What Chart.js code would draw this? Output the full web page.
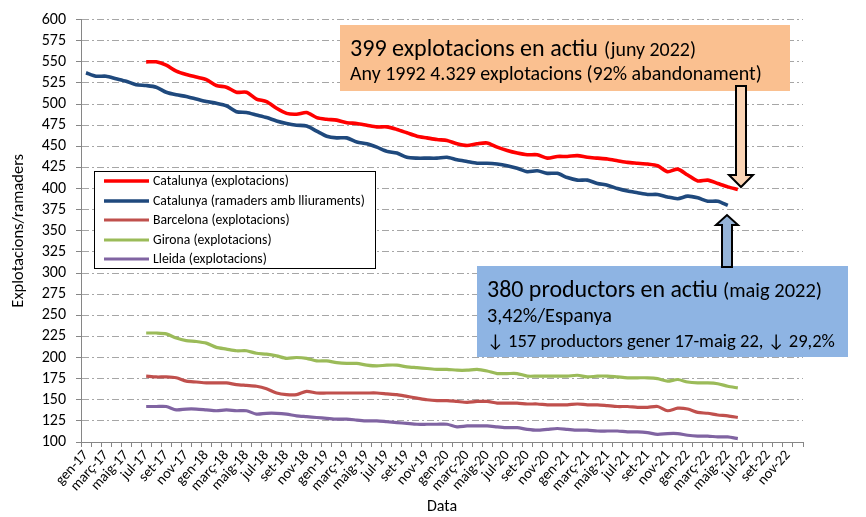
<!DOCTYPE html>
<html>
<head>
<meta charset="utf-8">
<script src="https://cdn.jsdelivr.net/npm/chart.js@4/dist/chart.umd.min.js"></script>
<style>
  html, body { margin: 0; padding: 0; background: #fff; }
  #wrap { width: 866px; height: 517px; }
</style>
</head>
<body>
<div id="wrap"><canvas id="chart" width="866" height="517"></canvas></div>
<script>
// Months in catalan, one category per month gen-17 .. des-22
const monthNames = ['gen', 'febr', 'març', 'abr', 'maig', 'juny', 'jul', 'ag', 'set', 'oct', 'nov', 'des'];
const years = ['17', '18', '19', '20', '21', '22'];
const categories = [];
years.forEach(y => monthNames.forEach(m => categories.push(m + '-' + y)));

// Series (start index into categories, then monthly values)
const catExplStart = 6; // jul-17
const catalunyaExplotacions = [
  550, 550, 546, 539, 535, 532, 529, 522, 520, 514,
  514, 506, 503, 495, 489, 488, 490, 484, 482, 481,
  478, 477, 475, 473, 473, 470, 466, 462, 460, 458,
  457, 453, 451, 453, 454, 449, 445, 442, 440, 440,
  436, 438, 438, 439, 437, 436, 435, 433, 431, 430,
  429, 427, 420, 423, 416, 409, 410, 406, 402, 399
];
const catRamStart = 0; // gen-17
const catalunyaRamaders = [
  537, 533, 533, 530, 527, 523, 522, 520, 514, 511,
  509, 506, 503, 501, 498, 491, 490, 487, 484, 480,
  477, 475, 474, 468, 462, 460, 460, 455, 453, 449,
  444, 442, 437, 436, 436, 436, 437, 434, 432, 430,
  430, 429, 427, 424, 420, 421, 418, 418, 413, 410,
  410, 406, 404, 400, 397, 395, 393, 393, 390, 388,
  391, 389, 385, 385, 380
];
const provStart = 6; // jul-17
const barcelona = [
  178, 177, 177, 176, 172, 171, 170, 170, 170, 168,
  167, 166, 163, 158, 156, 156, 160, 158, 158, 158,
  158, 158, 158, 158, 157, 156, 154, 152, 150, 149,
  149, 148, 147, 148, 148, 146, 146, 146, 145, 145,
  144, 144, 144, 145, 144, 144, 143, 142, 142, 141,
  141, 142, 137, 140, 139, 135, 134, 132, 131, 129
];
const girona = [
  229, 229, 228, 223, 220, 219, 217, 212, 210, 208,
  208, 205, 204, 202, 199, 200, 199, 196, 196, 194,
  193, 193, 191, 190, 191, 191, 189, 188, 187, 186,
  186, 185, 185, 186, 184, 181, 181, 181, 178, 178,
  178, 178, 178, 179, 177, 178, 178, 177, 176, 176,
  176, 175, 172, 174, 171, 170, 170, 169, 166, 164
];
const lleida = [
  142, 142, 142, 138, 139, 139, 138, 137, 138, 137,
  137, 133, 134, 134, 133, 131, 130, 129, 128, 127,
  127, 126, 125, 125, 124, 123, 122, 121, 121, 121,
  121, 118, 119, 119, 119, 118, 117, 117, 115, 114,
  115, 116, 115, 114, 114, 113, 113, 113, 112, 112,
  111, 109, 110, 110, 108, 107, 107, 106, 106, 104
];

const yMin = 100, yMax = 600, yStep = 25;

const FONT = 'Carlito, Calibri, Lato, sans-serif';

function pad(start, values) {
  const out = new Array(categories.length).fill(null);
  values.forEach((v, i) => { out[start + i] = v; });
  return out;
}

const datasets = [
  { label: 'Catalunya (explotacions)', data: pad(catExplStart, catalunyaExplotacions), borderColor: '#ff0000', borderWidth: 3.6 },
  { label: 'Catalunya (ramaders amb lliuraments)', data: pad(catRamStart, catalunyaRamaders), borderColor: '#1f497d', borderWidth: 3.6 },
  { label: 'Barcelona (explotacions)', data: pad(provStart, barcelona), borderColor: '#c0504d', borderWidth: 3.2 },
  { label: 'Girona (explotacions)', data: pad(provStart, girona), borderColor: '#9bbb59', borderWidth: 3.2 },
  { label: 'Lleida (explotacions)', data: pad(provStart, lleida), borderColor: '#8064a2', borderWidth: 3.2 }
];
datasets.forEach(d => { d.pointRadius = 0; d.tension = 0.25; d.fill = false; });

// fit a text to a given width by adjusting font size
function fitFont(ctx, text, width, weight) {
  ctx.font = (weight || '') + ' 20px ' + FONT;
  const w = ctx.measureText(text).width;
  return 20 * width / w;
}

function drawArrow(ctx, x, yStart, yTip, shaftW, headW, headH, fill) {
  const dir = yTip > yStart ? 1 : -1;
  const yBase = yTip - dir * headH;
  ctx.beginPath();
  ctx.moveTo(x - shaftW / 2, yStart);
  ctx.lineTo(x - shaftW / 2, yBase);
  ctx.lineTo(x - headW / 2, yBase);
  ctx.lineTo(x, yTip);
  ctx.lineTo(x + headW / 2, yBase);
  ctx.lineTo(x + shaftW / 2, yBase);
  ctx.lineTo(x + shaftW / 2, yStart);
  ctx.closePath();
  ctx.fillStyle = fill;
  ctx.fill();
  ctx.lineWidth = 2;
  ctx.strokeStyle = '#000';
  ctx.stroke();
}

const overlay = {
  id: 'overlay',
  afterDraw(chart) {
    const ctx = chart.ctx;
    ctx.save();

    // legend box
    ctx.fillStyle = '#fff';
    ctx.fillRect(94, 171, 281, 97);
    ctx.lineWidth = 1;
    ctx.strokeStyle = '#000';
    ctx.strokeRect(94.5, 171.5, 281, 97);
    const rows = [181, 201, 220, 240, 259];
    const legSize = fitFont(ctx, 'Catalunya (ramaders amb lliuraments)', 212);
    chart.data.datasets.forEach((ds, i) => {
      ctx.beginPath();
      ctx.moveTo(104, rows[i]);
      ctx.lineTo(149, rows[i]);
      ctx.lineWidth = ds.borderWidth;
      ctx.strokeStyle = ds.borderColor;
      ctx.stroke();
      ctx.fillStyle = '#000';
      ctx.font = legSize + 'px ' + FONT;
      ctx.textBaseline = 'middle';
      ctx.fillText(ds.label, 153, rows[i] + 1);
    });

    // orange box
    ctx.fillStyle = '#fac090';
    ctx.fillRect(340, 25, 450, 66);
    ctx.textBaseline = 'alphabetic';
    ctx.fillStyle = '#000';
    let s = fitFont(ctx, '399 explotacions en actiu', 248);
    ctx.font = s + 'px ' + FONT;
    ctx.fillText('399 explotacions en actiu', 350, 56);
    s = fitFont(ctx, '(juny 2022)', 92);
    ctx.font = s + 'px ' + FONT;
    ctx.fillText('(juny 2022)', 604, 56);
    s = fitFont(ctx, 'Any 1992 4.329 explotacions (92% abandonament)', 412);
    ctx.font = s + 'px ' + FONT;
    ctx.fillText('Any 1992 4.329 explotacions (92% abandonament)', 350, 80);

    // blue box
    ctx.fillStyle = '#8eb4e3';
    ctx.fillRect(477, 266, 371, 91);
    ctx.fillStyle = '#000';
    s = fitFont(ctx, '380 productors en actiu', 231);
    ctx.font = s + 'px ' + FONT;
    ctx.fillText('380 productors en actiu', 487, 297);
    s = fitFont(ctx, '(maig 2022)', 99);
    ctx.font = s + 'px ' + FONT;
    ctx.fillText('(maig 2022)', 723, 297);
    s = fitFont(ctx, '3,42%/Espanya', 125);
    ctx.font = s + 'px ' + FONT;
    ctx.fillText('3,42%/Espanya', 487, 322);
    s = fitFont(ctx, '↓ 157 productors gener 17-maig 22, ↓ 29,2%', 348);
    ctx.font = s + 'px ' + FONT;
    ctx.fillText('↓ 157 productors gener 17-maig 22, ↓ 29,2%', 487, 347);

    // arrows
    drawArrow(ctx, 741, 86, 187, 10, 24, 12, '#fbd4b4');
    drawArrow(ctx, 727, 267, 215, 10, 22, 10, '#95b3d7');

    ctx.restore();
  }
};

new Chart(document.getElementById('chart'), {
  type: 'line',
  data: { labels: categories, datasets: datasets },
  options: {
    responsive: false,
    animation: false,
    devicePixelRatio: 1,
    layout: { padding: { top: 19, right: 63, left: 0, bottom: 0 } },
    plugins: { legend: { display: false }, tooltip: { enabled: false } },
    scales: {
      x: {
        type: 'category',
        offset: true,
        grid: { offset: true, drawOnChartArea: false, drawTicks: true, tickLength: 5, color: '#868686' },
        border: { color: '#868686' },
        ticks: {
          autoSkip: false, maxRotation: 48, minRotation: 48, padding: 0,
          color: '#000', font: { family: FONT, size: 14.5 },
          callback: (v, i) => (i % 2 === 0 ? categories[i] : '')
        },
        title: { display: true, text: 'Data', color: '#000', font: { family: FONT, size: 16 }, padding: { top: 0, bottom: 0 } },
        afterFit: s => { s.height = 75; }
      },
      y: {
        min: yMin, max: yMax,
        ticks: { stepSize: yStep, autoSkip: false, color: '#000', font: { family: FONT, size: 16 }, padding: 10 },
        grid: { color: '#a6a6a6', tickLength: 5, tickColor: '#868686' },
        border: { color: '#868686', dash: [7, 3, 2, 3] },
        title: { display: true, text: 'Explotacions/ramaders', color: '#000', font: { family: FONT, size: 16.5 }, padding: { top: 9, bottom: 0 } },
        afterFit: s => { s.width = 81; }
      }
    }
  },
  plugins: [overlay]
});
</script>
</body>
</html>
